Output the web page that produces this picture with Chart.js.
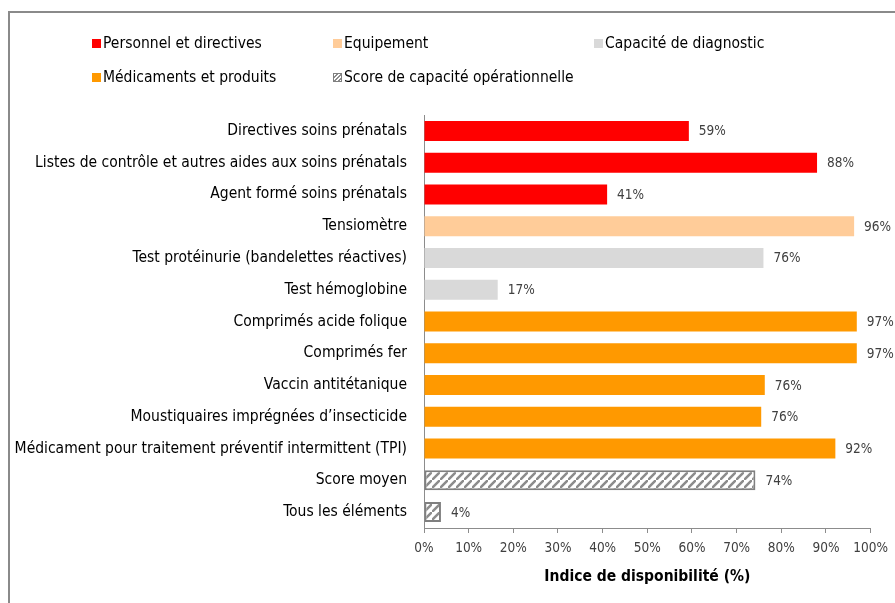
<!DOCTYPE html>
<html><head><meta charset="utf-8">
<script src="https://cdn.jsdelivr.net/npm/chart.js@4/dist/chart.umd.min.js"></script>
<style>
html,body{margin:0;padding:0;background:#fff;}
#wrap{position:relative;width:895px;height:603px;overflow:hidden;}
#frame{position:absolute;left:8px;top:11px;width:900px;height:600px;border-left:2px solid #8a8a8a;border-top:2px solid #8a8a8a;box-sizing:border-box;}
#c{position:absolute;left:0;top:0;}
.lg{position:absolute;font-family:'Liberation Sans Narrow','DejaVu Sans Condensed',sans-serif;font-size:15.5px;color:#000;white-space:nowrap;line-height:18px;}
.sw{position:absolute;left:-11px;top:5px;width:9px;height:9px;box-sizing:border-box;}
</style></head>
<body>
<div id="wrap">
<div id="frame"></div>
<canvas id="c" width="895" height="603"></canvas>
<div id="legend"></div>
</div>
<script>
const categories = [
  "Directives soins prénatals",
  "Listes de contrôle et autres aides aux soins prénatals",
  "Agent formé soins prénatals",
  "Tensiomètre",
  "Test protéinurie (bandelettes réactives)",
  "Test hémoglobine",
  "Comprimés acide folique",
  "Comprimés fer",
  "Vaccin antitétanique",
  "Moustiquaires imprégnées d\u2019insecticide",
  "Médicament pour traitement préventif intermittent (TPI)",
  "Score moyen",
  "Tous les éléments"
];
const values = [59.3, 88, 41, 96.3, 76, 16.5, 96.9, 96.9, 76.3, 75.5, 92.1, 74.2, 3.8];
const valueLabels = ["59%","88%","41%","96%","76%","17%","97%","97%","76%","76%","92%","74%","4%"];
const groups = [0,0,0,1,2,2,3,3,3,3,3,4,4];
const groupNames = ["Personnel et directives","Equipement","Capacité de diagnostic","Médicaments et produits","Score de capacité opérationnelle"];
const groupColors = ["#FF0000","#FFCC99","#D9D9D9","#FF9900","hatch"];
const xTicks = [0,10,20,30,40,50,60,70,80,90,100];

const FONT = "'Liberation Sans Narrow','DejaVu Sans Condensed',sans-serif";

function makeHatch(){
  const n = 8;
  const p = document.createElement('canvas');
  p.width = n; p.height = n;
  const g = p.getContext('2d');
  g.fillStyle = '#fff'; g.fillRect(0,0,n,n);
  g.strokeStyle = '#8c8c8c'; g.lineWidth = 2.5;
  g.beginPath();
  g.moveTo(-1,n+1); g.lineTo(n+1,-1);
  g.moveTo(-n-1,1); g.lineTo(1,-n-1);
  g.moveTo(n-1,2*n+1); g.lineTo(2*n+1,n-1);
  g.stroke();
  return document.getElementById('c').getContext('2d').createPattern(p,'repeat');
}
const hatch = makeHatch();
const fillOf = c => c === 'hatch' ? hatch : c;

// HTML legend
const legendPos = [[103,34],[344,34],[605,34],[103,68],[344,68]];
const lg = document.getElementById('legend');
groupNames.forEach((n,i)=>{
  const d = document.createElement('div');
  d.className='lg';
  d.style.left = legendPos[i][0]+'px';
  d.style.top = legendPos[i][1]+'px';
  const s = document.createElement('span');
  s.className='sw';
  if (groupColors[i]==='hatch'){
    s.style.background = 'repeating-linear-gradient(135deg,#fff 0 1.5px,#8c8c8c 1.5px 3px)';
    s.style.border = '1.5px solid #7f7f7f';
  } else s.style.background = groupColors[i];
  d.appendChild(s);
  d.appendChild(document.createTextNode(n));
  lg.appendChild(d);
});

const valueLabelPlugin = {
  id:'valueLabels',
  afterDatasetsDraw(chart){
    const ctx = chart.ctx;
    const meta = chart.getDatasetMeta(0);
    ctx.save();
    ctx.font = "13.5px " + FONT;
    ctx.fillStyle = '#404040';
    ctx.textAlign = 'left';
    ctx.textBaseline = 'middle';
    meta.data.forEach((el,i)=>{
      ctx.fillText(valueLabels[i], el.x + 10, el.y + 1);
    });
    ctx.restore();
  }
};

new Chart(document.getElementById('c'), {
  type:'bar',
  data:{
    labels: categories,
    datasets:[{
      data: values,
      backgroundColor: groups.map(g=>fillOf(groupColors[g])),
      borderColor: groups.map(g=>groupColors[g]==='hatch' ? '#7f7f7f' : 'rgba(0,0,0,0)'),
      borderWidth: groups.map(g=>groupColors[g]==='hatch' ? 2 : 0),
      borderSkipped: false,
      barPercentage: 0.63,
      categoryPercentage: 1
    }]
  },
  options:{
    indexAxis:'y',
    responsive:false,
    animation:false,
    devicePixelRatio:1,
    layout:{padding:{left:0,right:24,top:115,bottom:0}},
    plugins:{legend:{display:false},tooltip:{enabled:false}},
    scales:{
      x:{
        min:0,max:100,
        afterBuildTicks(s){ s.ticks = xTicks.map(v=>({value:v})); },
        afterFit(s){ s.height = 75; },
        grid:{drawOnChartArea:false,drawTicks:true,tickLength:5,color:'#8c8c8c',lineWidth:1},
        border:{display:true,color:'#8c8c8c',width:1},
        ticks:{padding:7,color:'#404040',font:{family:FONT,size:13.5},maxRotation:0,autoSkip:false,
          callback:v=>v+'%'},
        title:{display:true,text:'Indice de disponibilité (%)',color:'#000',
          font:{family:FONT,size:15.5,weight:'bold'},padding:{top:0,bottom:17}}
      },
      y:{
        afterFit(s){ s.width = 424; },
        grid:{display:true,drawOnChartArea:false,drawTicks:false},
        border:{display:true,color:'#8c8c8c',width:1},
        ticks:{padding:17,color:'#000',font:{family:FONT,size:15.5},autoSkip:false}
      }
    }
  },
  plugins:[valueLabelPlugin]
});
</script>
</body></html>
